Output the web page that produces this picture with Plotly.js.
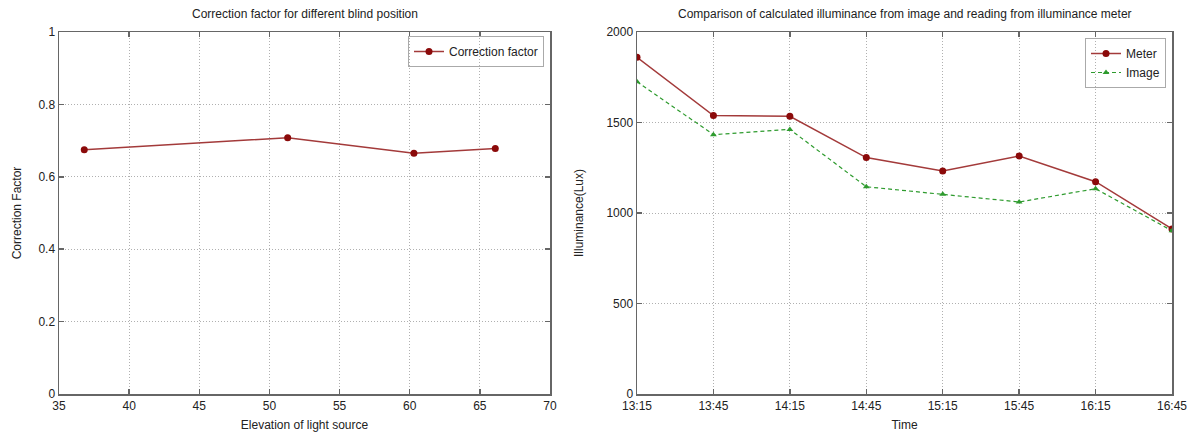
<!DOCTYPE html>
<html>
<head>
<meta charset="utf-8">
<script src="https://cdn.plot.ly/plotly-3.0.1.min.js"></script>
<style>html,body{margin:0;padding:0;background:#fff;}#chart{width:1195px;height:435px;}</style>
</head>
<body>
<div id="chart"></div>
<script>
// Left chart data
const elevation = [36.8, 51.3, 60.3, 66.1];
const correctionFactor = [0.675, 0.708, 0.665, 0.678];

// Right chart data
const times = ["13:15", "13:45", "14:15", "14:45", "15:15", "15:45", "16:15", "16:45"];
const meterLux = [1860, 1538, 1534, 1306, 1232, 1315, 1173, 912];
const imageLux = [1725, 1433, 1462, 1145, 1103, 1061, 1134, 902];

const titles = {
  left: "Correction factor for different blind position",
  right: "Comparison of calculated illuminance from image and reading from illuminance meter",
  leftX: "Elevation of light source",
  leftY: "Correction Factor",
  rightX: "Time",
  rightY: "Illuminance(Lux)"
};

const FONT = "Liberation Sans, Arial, sans-serif";
const TXT = "#222";
const FRAME = "#666";
const GRID = "#b0b0b0";
const RED = "#8b0a0a";
const REDLINE = "#a33a3a";
const GREEN = "#2e9b2e";

const traces = [
  {x: elevation, y: correctionFactor, name: "Correction factor", type: "scatter", mode: "lines+markers",
   xaxis: "x", yaxis: "y", legend: "legend",
   line: {color: REDLINE, width: 1.5}, marker: {color: RED, size: 7, symbol: "circle"}},
  {x: times, y: meterLux, name: "Meter", type: "scatter", mode: "lines+markers",
   xaxis: "x2", yaxis: "y2", legend: "legend2",
   line: {color: REDLINE, width: 1.5}, marker: {color: RED, size: 7, symbol: "circle"}},
  {x: times, y: imageLux, name: "Image", type: "scatter", mode: "lines+markers",
   xaxis: "x2", yaxis: "y2", legend: "legend2",
   line: {color: GREEN, width: 1.2, dash: "4px,3px"}, marker: {color: GREEN, size: 6, symbol: "triangle-up"}}
];

const axisCommon = {
  showline: true, linecolor: FRAME, linewidth: 1.5, mirror: "ticks",
  ticks: "inside", ticklen: 5, tickcolor: FRAME, tickwidth: 1.5,
  showgrid: true, gridcolor: GRID, griddash: "1px,2px", gridwidth: 1,
  zeroline: false, tickfont: {family: FONT, size: 12, color: TXT},
  fixedrange: true
};

const yDom = [41/435, 403/435];

const layout = {
  width: 1195, height: 435,
  margin: {l: 0, r: 0, t: 0, b: 0},
  paper_bgcolor: "#fff", plot_bgcolor: "#fff",
  font: {family: FONT, size: 12, color: TXT},
  xaxis: Object.assign({}, axisCommon, {
    domain: [59/1195, 550/1195], range: [35, 70], dtick: 5, tick0: 35, anchor: "y",
    title: {text: titles.leftX, font: {family: FONT, size: 12, color: TXT}, standoff: 8}
  }),
  yaxis: Object.assign({}, axisCommon, {
    domain: yDom, range: [0, 1], dtick: 0.2, anchor: "x",
    title: {text: titles.leftY, font: {family: FONT, size: 12, color: TXT}, standoff: 14}
  }),
  xaxis2: Object.assign({}, axisCommon, {
    domain: [637/1195, 1172/1195], type: "category", range: [0, 7], anchor: "y2",
    title: {text: titles.rightX, font: {family: FONT, size: 12, color: TXT}, standoff: 8}
  }),
  yaxis2: Object.assign({}, axisCommon, {
    domain: yDom, range: [0, 2000], dtick: 500, anchor: "x2",
    title: {text: titles.rightY, font: {family: FONT, size: 12, color: TXT}, standoff: 20}
  }),
  legend: {
    x: 544/1195, xanchor: "right", y: (435-36)/435, yanchor: "top",
    bgcolor: "rgba(255,255,255,0)", bordercolor: "#aaa", borderwidth: 1,
    font: {family: FONT, size: 12, color: TXT}
  },
  legend2: {
    x: 1166/1195, xanchor: "right", y: (435-38)/435, yanchor: "top",
    bgcolor: "rgba(255,255,255,0)", bordercolor: "#aaa", borderwidth: 1,
    font: {family: FONT, size: 12, color: TXT}, tracegroupgap: 0
  },
  showlegend: true,
  annotations: [
    {text: titles.left, xref: "paper", yref: "paper", x: 304.5/1195, y: (435-14)/435,
     xanchor: "center", yanchor: "middle", showarrow: false, font: {family: FONT, size: 12, color: TXT}},
    {text: titles.right, xref: "paper", yref: "paper", x: 904.5/1195, y: (435-14)/435,
     xanchor: "center", yanchor: "middle", showarrow: false, font: {family: FONT, size: 12, color: TXT}}
  ]
};

Plotly.newPlot("chart", traces, layout, {displayModeBar: false, staticPlot: true});
</script>
</body>
</html>
